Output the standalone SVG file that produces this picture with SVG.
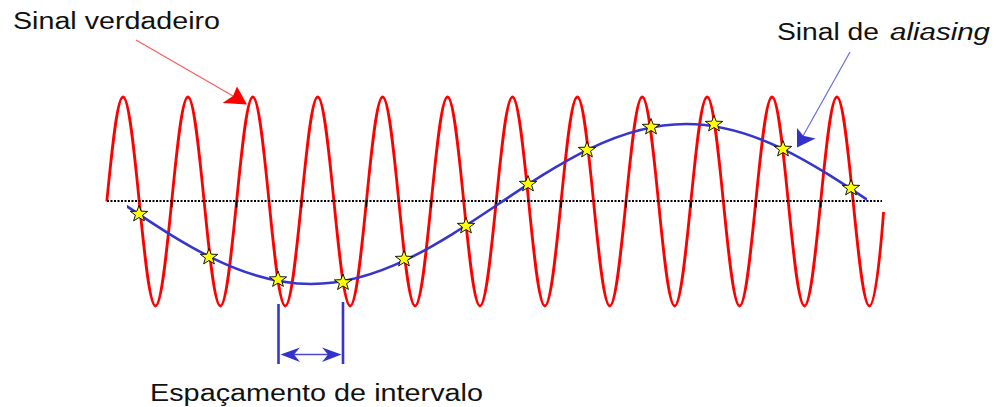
<svg xmlns="http://www.w3.org/2000/svg" width="996" height="407" viewBox="0 0 996 407">
<style>
.lbl{font-family:"Liberation Sans",Arial,sans-serif;font-size:23px;fill:#111}
.red{fill:none;stroke:#ff0000;stroke-width:2.8;stroke-linejoin:round}
.blue{fill:none;stroke:#3636cc;stroke-width:2.6}
.base{fill:none;stroke:#000;stroke-width:2;stroke-dasharray:2 1.5}
.tick{stroke:#000;stroke-width:1.6}
.star{fill:#ffff00;stroke:#000;stroke-width:0.9;stroke-linejoin:miter}
</style>
<defs>
<clipPath id="bclip"><rect x="127" y="0" width="740" height="407"/></clipPath>
<polygon id="star" class="star" points="0,-8.5 2.2,-2.8 8.7,-2.6 3.6,1.1 5.4,6.9 0,3.5 -5.4,6.9 -3.6,1.1 -8.7,-2.6 -2.2,-2.8"/>
</defs>

<g id="true-signal">
<path class="red" d="M106.8,201.5
c5.297,-53.59 10.426,-104.5 16.225,-104.5 c5.799,0 10.928,50.91 16.225,104.5 c5.297,53.59 10.426,104.5 16.225,104.5 c5.799,0 10.928,-50.91 16.225,-104.5
c5.297,-53.59 10.426,-104.5 16.225,-104.5 c5.799,0 10.928,50.91 16.225,104.5 c5.297,53.59 10.426,104.5 16.225,104.5 c5.799,0 10.928,-50.91 16.225,-104.5
c5.297,-53.59 10.426,-104.5 16.225,-104.5 c5.799,0 10.928,50.91 16.225,104.5 c5.297,53.59 10.426,104.5 16.225,104.5 c5.799,0 10.928,-50.91 16.225,-104.5
c5.297,-53.59 10.426,-104.5 16.225,-104.5 c5.799,0 10.928,50.91 16.225,104.5 c5.297,53.59 10.426,104.5 16.225,104.5 c5.799,0 10.928,-50.91 16.225,-104.5
c5.297,-53.59 10.426,-104.5 16.225,-104.5 c5.799,0 10.928,50.91 16.225,104.5 c5.297,53.59 10.426,104.5 16.225,104.5 c5.799,0 10.928,-50.91 16.225,-104.5
c5.297,-53.59 10.426,-104.5 16.225,-104.5 c5.799,0 10.928,50.91 16.225,104.5 c5.297,53.59 10.426,104.5 16.225,104.5 c5.799,0 10.928,-50.91 16.225,-104.5
c5.297,-53.59 10.426,-104.5 16.225,-104.5 c5.799,0 10.928,50.91 16.225,104.5 c5.297,53.59 10.426,104.5 16.225,104.5 c5.799,0 10.928,-50.91 16.225,-104.5
c5.297,-53.59 10.426,-104.5 16.225,-104.5 c5.799,0 10.928,50.91 16.225,104.5 c5.297,53.59 10.426,104.5 16.225,104.5 c5.799,0 10.928,-50.91 16.225,-104.5
c5.297,-53.59 10.426,-104.5 16.225,-104.5 c5.799,0 10.928,50.91 16.225,104.5 c5.297,53.59 10.426,104.5 16.225,104.5 c5.799,0 10.928,-50.91 16.225,-104.5
c5.297,-53.59 10.426,-104.5 16.225,-104.5 c5.799,0 10.928,50.91 16.225,104.5 c5.297,53.59 10.426,104.5 16.225,104.5 c5.799,0 10.928,-50.91 16.225,-104.5
c5.297,-53.59 10.426,-104.5 16.225,-104.5 c5.799,0 10.928,50.91 16.225,104.5 c5.297,53.59 10.426,104.5 16.225,104.5 c5.799,0 10.928,-50.91 16.225,-104.5
c5.297,-53.59 10.426,-104.5 16.225,-104.5 c5.799,0 10.928,50.91 16.225,104.5 c5.297,53.59 10.426,104.5 16.225,104.5 c5.799,0 10.928,-50.91 14.2,-94"/>
</g>

<g id="baseline">
<line class="base" x1="107" y1="201" x2="882" y2="201"/>
<g class="tick">
<line x1="171.7" y1="201" x2="171.7" y2="207.5"/>
<line x1="236.6" y1="201" x2="236.6" y2="207.5"/>
<line x1="301.5" y1="201" x2="301.5" y2="207.5"/>
<line x1="366.4" y1="201" x2="366.4" y2="207.5"/>
<line x1="431.3" y1="201" x2="431.3" y2="207.5"/>
<line x1="496.2" y1="201" x2="496.2" y2="207.5"/>
<line x1="561.1" y1="201" x2="561.1" y2="207.5"/>
<line x1="626" y1="201" x2="626" y2="207.5"/>
<line x1="690.9" y1="201" x2="690.9" y2="207.5"/>
<line x1="755.8" y1="201" x2="755.8" y2="207.5"/>
<line x1="820.7" y1="201" x2="820.7" y2="207.5"/>
</g>
</g>

<g id="alias-signal">
<path class="blue" clip-path="url(#bclip)" d="M123.5,204 c61.22,41.02 120.49,80 187.5,80 c67.01,0 126.28,-38.98 187.5,-80 c61.22,-41.02 120.49,-80 187.5,-80 c67.01,0 126.28,38.98 187.5,80"/>
</g>

<g id="samples">
<use href="#star" x="139" y="214"/>
<use href="#star" x="209" y="257"/>
<use href="#star" x="278" y="279.5"/>
<use href="#star" x="343" y="282.5"/>
<use href="#star" x="404" y="259"/>
<use href="#star" x="466" y="226"/>
<use href="#star" x="528" y="184"/>
<use href="#star" x="587" y="150"/>
<use href="#star" x="651" y="127"/>
<use href="#star" x="714" y="124"/>
<use href="#star" x="783" y="149"/>
<use href="#star" x="851" y="188"/>
</g>

<g id="interval-bracket">
<line x1="278.5" y1="304" x2="278.5" y2="364" stroke="#3636cc" stroke-width="2.6"/>
<line x1="343" y1="302" x2="343" y2="364" stroke="#3636cc" stroke-width="2.6"/>
</g>

<g id="connectors">
<line x1="136" y1="40" x2="233" y2="96" stroke="#ff5a5a" stroke-width="1.2"/>
<polygon points="247,104.5 222.5,103 233,96 237,86.5" fill="#ff0000"/>
<line x1="850" y1="52" x2="803" y2="136" stroke="#6a6ae0" stroke-width="1.2"/>
<polygon points="797,147.5 797,128 803.3,135.7 815.5,138.5" fill="#3333cc"/>
<line x1="292" y1="354.5" x2="329" y2="354.5" stroke="#4a4ad0" stroke-width="1.3"/>
<polygon points="280.5,354.5 300,347.5 294,354.5 300,362" fill="#3333cc"/>
<polygon points="341.5,354.5 322,347.5 328,354.5 322,362" fill="#3333cc"/>
</g>

<g id="labels">
<text class="lbl" x="13" y="28.5" textLength="207" lengthAdjust="spacingAndGlyphs">Sinal verdadeiro</text>
<text class="lbl" x="777" y="40" textLength="102" lengthAdjust="spacingAndGlyphs">Sinal de</text>
<text class="lbl" x="890" y="40" textLength="100" lengthAdjust="spacingAndGlyphs" font-style="italic">aliasing</text>
<text class="lbl" x="150" y="401" textLength="333" lengthAdjust="spacingAndGlyphs">Espaçamento de intervalo</text>
</g>
</svg>
